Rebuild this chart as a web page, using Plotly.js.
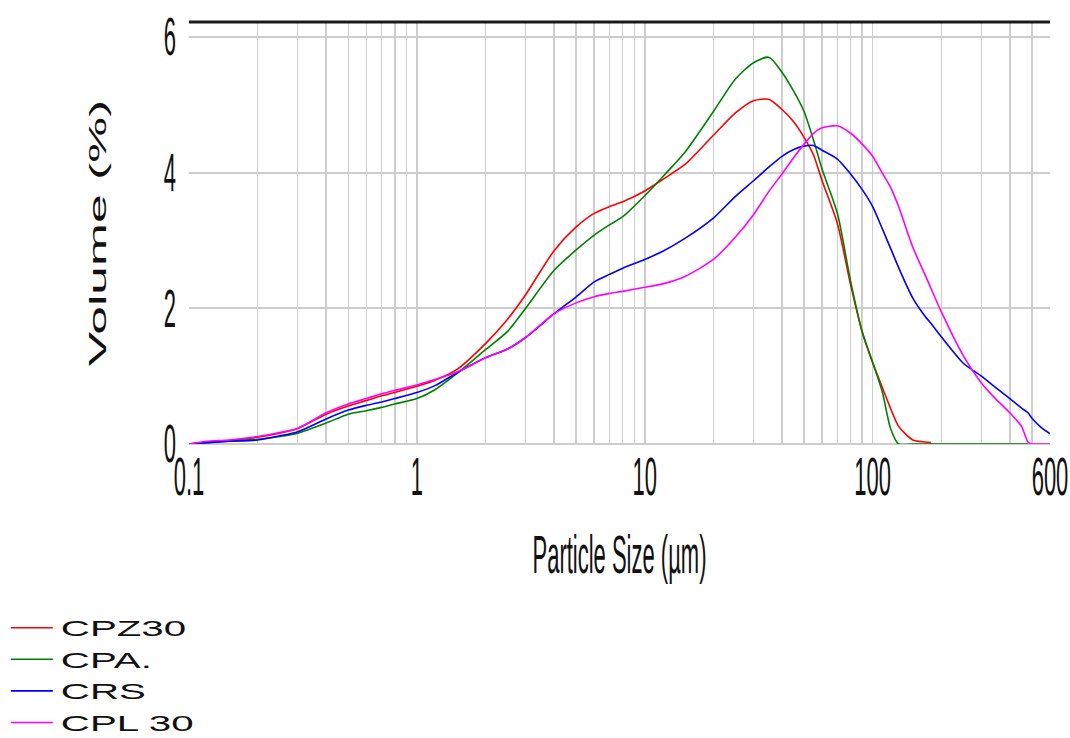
<!DOCTYPE html>
<html>
<head>
<meta charset="utf-8">
<script src="https://cdn.plot.ly/plotly-3.0.1.min.js"></script>
<style>
  html, body { margin: 0; padding: 0; background: #fff; }
  #chart { width: 1070px; height: 738px; }
</style>
</head>
<body>
<div id="chart"></div>
<script>
// Particle sizes (µm)
const sizes = [0.1, 0.12, 0.15, 0.2, 0.25, 0.3, 0.4, 0.5, 0.6, 0.7, 0.8, 1, 1.2, 1.5, 2, 2.5, 3, 4, 5, 6, 7, 8, 10, 12, 15, 20, 25, 30, 35, 40, 45, 50, 55, 60, 70, 80, 90, 100, 110, 120, 130, 150, 170, 180, 200, 250, 300, 350, 400, 450, 480, 500, 550, 600];

// Volume (%) per series
const cpz30 = [0, 0.03, 0.05, 0.10, 0.16, 0.23, 0.44, 0.56, 0.64, 0.71, 0.76, 0.85, 0.94, 1.10, 1.48, 1.84, 2.20, 2.85, 3.20, 3.40, 3.50, 3.57, 3.73, 3.90, 4.12, 4.55, 4.88, 5.06, 5.08, 4.93, 4.75, 4.52, 4.26, 3.88, 3.25, 2.35, 1.65, 1.20, 0.84, 0.52, 0.26, 0.06, 0.03, 0.02, null, null, null, null, null, null, null, null, null, null];
const cpa = [0, 0.02, 0.04, 0.07, 0.11, 0.16, 0.31, 0.44, 0.49, 0.54, 0.59, 0.67, 0.80, 1.04, 1.39, 1.66, 2.00, 2.56, 2.86, 3.08, 3.23, 3.35, 3.66, 3.94, 4.30, 4.90, 5.38, 5.62, 5.70, 5.48, 5.20, 4.90, 4.48, 4.05, 3.40, 2.40, 1.65, 1.20, 0.78, 0.22, 0, 0, 0, 0, 0, 0, 0, 0, 0, 0, 0, null, null, null];
const crs = [0, 0.02, 0.04, 0.06, 0.12, 0.18, 0.37, 0.50, 0.57, 0.62, 0.67, 0.76, 0.86, 1.05, 1.27, 1.40, 1.57, 1.92, 2.17, 2.39, 2.50, 2.59, 2.72, 2.84, 3.03, 3.33, 3.65, 3.88, 4.08, 4.24, 4.34, 4.39, 4.40, 4.33, 4.20, 3.98, 3.75, 3.50, 3.18, 2.88, 2.60, 2.15, 1.88, 1.78, 1.58, 1.19, 1.00, 0.82, 0.67, 0.53, 0.46, 0.38, 0.24, 0.15];
const cpl30 = [0, 0.04, 0.06, 0.11, 0.17, 0.23, 0.46, 0.59, 0.67, 0.74, 0.79, 0.87, 0.95, 1.06, 1.27, 1.40, 1.57, 1.92, 2.08, 2.17, 2.22, 2.25, 2.31, 2.36, 2.47, 2.72, 3.05, 3.38, 3.72, 3.98, 4.22, 4.42, 4.58, 4.66, 4.69, 4.58, 4.42, 4.24, 4.00, 3.78, 3.50, 2.90, 2.49, 2.30, 1.95, 1.30, 0.90, 0.65, 0.46, 0.26, 0.03, 0, 0, 0];

const seriesNames = ['CPZ30', 'CPA.', 'CRS', 'CPL 30'];
const seriesColors = ['#ff0000', '#008000', '#0000ff', '#ff00ff'];
const seriesValues = [cpz30, cpa, crs, cpl30];

// Axis ticks
const xTickVals = [0.1,0.2,0.3,0.4,0.5,0.6,0.7,0.8,0.9,1,2,3,4,5,6,7,8,9,10,20,30,40,50,60,70,80,90,100,200,300,400,500,600];
const xTickText = ['0.1','','','','','','','','','1','','','','','','','','','10','','','','','','','','','100','','','','','600'];
const yTickVals = [0, 2, 4, 6];
const yTickText = ['0', '2', '4', '6'];

const narrowFont = {family: 'Liberation Sans, Arial, sans-serif', size: 22, color: '#111'};

const traces = seriesValues.map((vals, i) => ({
  x: sizes, y: vals, type: 'scatter', mode: 'lines', name: seriesNames[i],
  line: {color: seriesColors[i], width: 1.6, shape: 'spline', smoothing: 0.7},
  connectgaps: false
}));

const layout = {
  width: 1070, height: 738,
  margin: {l: 189, r: 20, t: 22, b: 294, autoexpand: false},
  paper_bgcolor: '#ffffff', plot_bgcolor: '#ffffff',
  xaxis: {
    type: 'log', range: [-1, Math.log10(600)], automargin: false,
    tickmode: 'array', tickvals: xTickVals, ticktext: xTickText,
    showgrid: true, gridcolor: '#cdcdcd', gridwidth: 1.5,
    ticks: '', tickfont: narrowFont, ticklabelstandoff: 18,
    zeroline: false, showline: false,
    title: {text: 'Particle Size (µm)', font: narrowFont, standoff: 58}
  },
  yaxis: {
    range: [0, 6.22], automargin: false,
    tickmode: 'array', tickvals: yTickVals, ticktext: yTickText,
    showgrid: true, gridcolor: '#cdcdcd', gridwidth: 2,
    zeroline: true, zerolinecolor: '#cdcdcd', zerolinewidth: 2,
    ticks: '', tickfont: narrowFont, ticklabelstandoff: 12,
    showline: false,
    title: {text: 'Volume (%)', font: {family: 'Liberation Sans, Arial, sans-serif', size: 24, color: '#111'}, standoff: 50}
  },
  shapes: [{type: 'line', xref: 'paper', yref: 'paper', x0: 0, x1: 1, y0: 1, y1: 1,
            line: {color: '#1a1a1a', width: 3}}],
  showlegend: true,
  legend: {
    x: -0.2127, xanchor: 'left', y: -0.386, yanchor: 'top',
    font: {family: 'Liberation Sans, Arial, sans-serif', size: 22, color: '#111'},
    bgcolor: 'rgba(0,0,0,0)', itemwidth: 45, tracegroupgap: 0
  }
};

function stretch(el, sx, sy, anchorLeft) {
  const b = el.getBBox();
  const cx = anchorLeft ? b.x : b.x + b.width / 2;
  const cy = b.y + b.height / 2;
  const t = el.getAttribute('transform') || '';
  el.setAttribute('transform', t + ' translate(' + cx + ',' + cy + ') scale(' + sx + ',' + sy + ') translate(' + (-cx) + ',' + (-cy) + ')');
}

Plotly.newPlot('chart', traces, layout, {displayModeBar: false, staticPlot: true}).then(gd => {
  gd.querySelectorAll('.xtick text, .ytick text').forEach(el => stretch(el, 1, 2.4));
  gd.querySelectorAll('.g-xtitle text').forEach(el => stretch(el, 1, 2.4));
  gd.querySelectorAll('.g-ytitle text').forEach(el => stretch(el, 2.15, 1));
  gd.querySelectorAll('.legendtext').forEach(el => stretch(el, 1.83, 1, true));
  gd.querySelectorAll('.legend [clip-path]').forEach(el => el.removeAttribute('clip-path'));
  gd.querySelectorAll('.legend .legendlines path').forEach(el => el.setAttribute('d', 'M5,0h42'));
});
</script>
</body>
</html>
